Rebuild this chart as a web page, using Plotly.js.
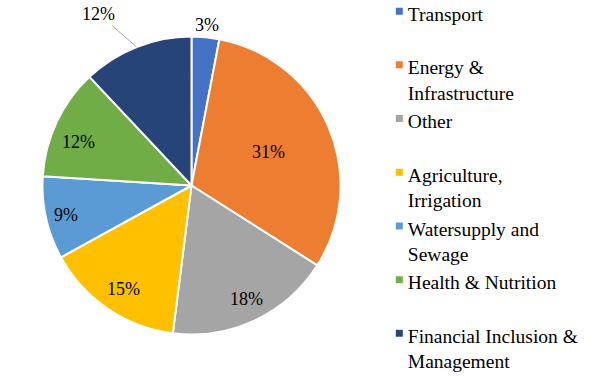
<!DOCTYPE html>
<html>
<head>
<meta charset="utf-8">
<script src="https://cdn.plot.ly/plotly-3.0.1.min.js"></script>
<style>html,body{margin:0;padding:0;background:#fff;}#chart{width:600px;height:376px;}</style>
</head>
<body>
<div id="chart"></div>
<script>
// ---- data ----
const categories = ["Transport", "Energy &<br>Infrastructure", "Other", "Agriculture,<br>Irrigation", "Watersupply and<br>Sewage", "Health & Nutrition", "Financial Inclusion &<br>Management"];
const shares = [3, 31, 18, 15, 9, 12, 12];

// ---- style / layout ----
const sliceColors = ["#4472C4", "#ED7D31", "#A5A5A5", "#FFC000", "#5B9BD5", "#70AD47", "#264478"];
// where each percentage label sits along its slice bisector, as a fraction of the radius
const labelRadius = [1.08, 0.56, 0.84, 0.84, 0.86, 0.815, 1.0];
// small pixel nudges of individual labels [x, y(up)]
const labelNudge = [[0, 0], [0, 0], [2, 0], [2, 0], [0, -2], [-3, -8], [0, 0]];
const leaderSlice = 6;               // label drawn away from the pie with a leader line
const leaderOffset = {ax: -38, ay: -33};

const W = 600, H = 376;
const domX = [0.0708, 0.5675], domY = [0.1104, 0.9029];
const serif = "Liberation Serif, Times New Roman, serif";

// pad single-line legend entries to two lines so all items share the same pitch
const legendLabels = categories.map(c => c.includes("<br>") ? c : c + "<br>&nbsp;");

const trace = {
  type: "pie",
  labels: legendLabels,
  values: shares,
  sort: false,
  direction: "clockwise",
  rotation: 0,
  marker: {colors: sliceColors, line: {color: "#ffffff", width: 2}},
  textposition: "none",
  hoverinfo: "label+percent",
  domain: {x: domX, y: domY}
};

const layout = {
  width: W, height: H,
  margin: {l: 0, r: 0, t: 0, b: 0, autoexpand: false},
  paper_bgcolor: "#ffffff",
  showlegend: true,
  legend: {
    x: 0.613, y: 1.016, xanchor: "left", yanchor: "top",
    valign: "top",
    maxheight: 1000,
    font: {family: serif, size: 19.5, color: "#000000"},
    bgcolor: "rgba(0,0,0,0)",
    traceorder: "normal"
  }
};

Plotly.newPlot("chart", [trace], layout, {displayModeBar: false, staticPlot: true}).then(gd => {
  // use the pie geometry computed by Plotly itself
  const c = gd.calcdata[0][0];
  const fl = gd._fullLayout;
  const total = shares.reduce((a, b) => a + b, 0);
  let before = 0;
  const annotations = shares.map((v, i) => {
    const ang = (before + v / 2) / total * 2 * Math.PI;
    before += v;
    const f = labelRadius[i];
    const px = c.cx + f * c.r * Math.sin(ang);
    const py = c.cy - f * c.r * Math.cos(ang);
    const a = {
      xref: "paper", yref: "paper",
      x: (px - fl._size.l) / fl._size.w,
      y: 1 - (py - fl._size.t) / fl._size.h,
      xshift: labelNudge[i][0], yshift: labelNudge[i][1],
      text: v + "%",
      showarrow: false,
      xanchor: "center", yanchor: "middle",
      font: {family: serif, size: 18, color: "#000000"}
    };
    if (i === leaderSlice) {
      Object.assign(a, {showarrow: true, arrowhead: 0, arrowwidth: 1, arrowcolor: "#A6A6A6",
        ax: leaderOffset.ax, ay: leaderOffset.ay, standoff: 0});
    }
    return a;
  });
  return Plotly.relayout(gd, {annotations: annotations});
}).then(() => {
  // smaller legend swatches, closer to the text (as in the reference)
  document.querySelectorAll("#chart .legendpoints path").forEach(p => {
    const t = p.getAttribute("transform") || "";
    p.setAttribute("transform", t + " translate(11.5,-2) scale(0.7)");
  });
});
</script>
</body>
</html>
